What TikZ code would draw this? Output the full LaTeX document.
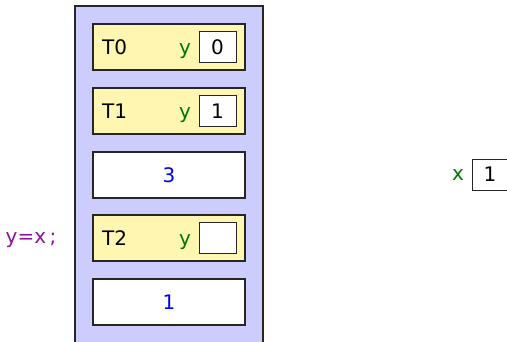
\documentclass[tikz,border=0pt]{standalone}
\usepackage{fontspec}
\setmainfont{DejaVu Sans}
\definecolor{lav}{RGB}{204,204,255}
\definecolor{yel}{RGB}{255,246,178}
\definecolor{grn}{RGB}{0,120,0}
\definecolor{pur}{RGB}{140,20,150}
\begin{document}
\begin{tikzpicture}[x=1pt,y=-1pt,
  every node/.style={font=\fontsize{20}{24}\selectfont},
  frame/.style={draw=black!85,line width=1.3pt},
  thread/.style={frame,fill=yel,minimum width=152pt,minimum height=46pt,inner sep=0pt},
  cell/.style={frame,fill=white,minimum width=152pt,minimum height=46pt,inner sep=0pt},
  var/.style={draw=black!85,line width=1pt,fill=white,minimum width=37pt,minimum height=31pt,inner sep=0pt},
  vname/.style={text=grn,anchor=base},
  num/.style={text=blue,anchor=base}]
\useasboundingbox (0,0) rectangle (507,341);
\path[frame,fill=lav] (75,6) rectangle (263,350);
\node[thread] (t0) at (169,47) {};
\node[thread] (t1) at (169,111) {};
\node[cell] (c3) at (169,175) {};
\node[thread] (t2) at (169,238) {};
\node[cell] (c1) at (169,302) {};
\node[anchor=base west,inner sep=0pt] (l0) at (102,54) {T0};
\node[anchor=base west,inner sep=0pt] (l1) at (102,118) {T1};
\node[anchor=base west,inner sep=0pt] (l2) at (102,245) {T2};
\node[vname] (y0) at (185,54) {y};
\node[vname] (y1) at (185,118) {y};
\node[vname] (y2) at (185,245) {y};
\node[var] (v0) at (217.5,47) {};
\node[var] (v1) at (217.5,111) {};
\node[var] (v2) at (217.5,238) {};
\node[anchor=base] (n0) at (217.5,54) {0};
\node[anchor=base] (n1) at (217.5,118) {1};
\node[num] (n3) at (169,182) {3};
\node[num] (n4) at (169,309) {1};
\node[vname] (xn) at (458,180) {x};
\node[var] (xv) at (491,174.5) {};
\node[anchor=base] (xval) at (490,181) {1};
\node[text=pur,anchor=base] (code) at (31,243) {y=x\,;};
\end{tikzpicture}
\end{document}
